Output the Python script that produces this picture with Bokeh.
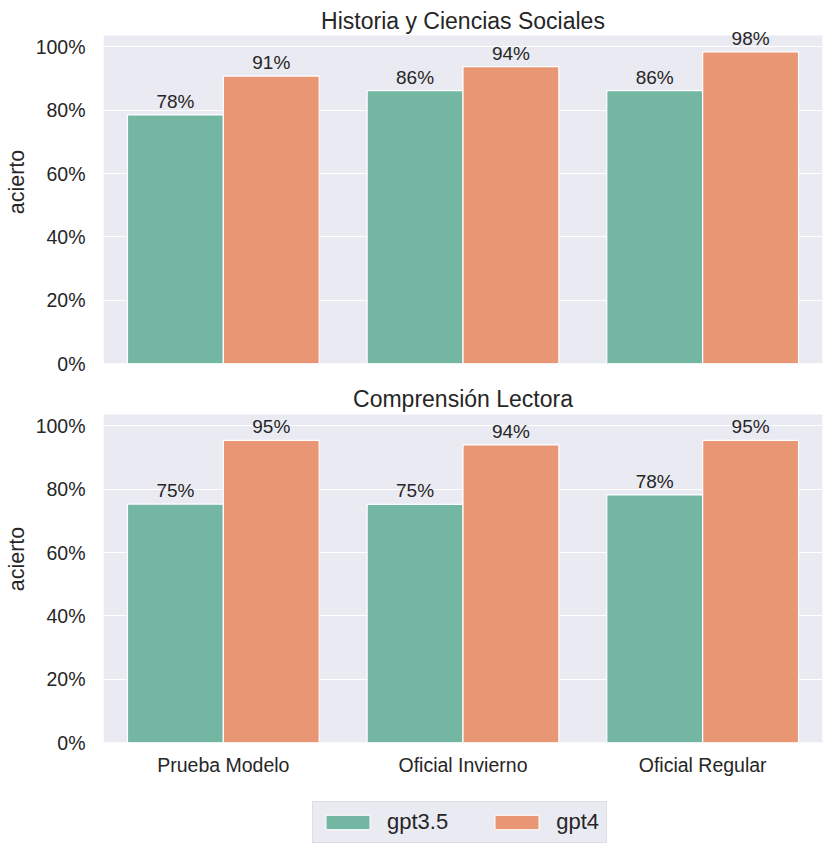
from bokeh.plotting import figure
from bokeh.models import (ColumnDataSource, FactorRange, Range1d, NumeralTickFormatter,
                          Legend, LegendItem, FixedTicker, LabelSet, Label, BoxAnnotation)
from bokeh.transform import dodge
from bokeh.layouts import column
from bokeh.core.properties import value
from bokeh.embed import file_html
from bokeh.resources import INLINE

categories = ["Prueba Modelo", "Oficial Invierno", "Oficial Regular"]
series = ["gpt3.5", "gpt4"]
hist_gpt35 = [0.785, 0.862, 0.862]
hist_gpt4 = [0.908, 0.938, 0.984]
comp_gpt35 = [0.753, 0.752, 0.782]
comp_gpt4 = [0.954, 0.940, 0.954]
titles = ["Historia y Ciencias Sociales", "Comprensión Lectora"]
y_ticks = [0.0, 0.2, 0.4, 0.6, 0.8, 1.0]

FONT = "Liberation Sans"
TXT = "#262626"
BG = "#EAEAF2"
COLORS = ["#73B6A1", "#E99675"]
Y_TOP = 1.036          # top of the grey axes area (data units)
AX_H = 328             # pixel height of the grey axes area
SCALE = AX_H / Y_TOP   # pixels per data unit


def make_fig(title, v35, v4, extra_top, bottom, show_x, title_off):
    src = ColumnDataSource(dict(
        cat=categories, g35=v35, g4=v4,
        l35=[f"{round(v * 100)}%" for v in v35],
        l4=[f"{round(v * 100)}%" for v in v4],
    ))
    fh = AX_H + extra_top
    p = figure(x_range=FactorRange(*categories), y_range=Range1d(0, fh / SCALE),
               frame_width=719, frame_height=fh, output_backend="svg", toolbar_location=None,
               min_border_left=103, min_border_right=10, min_border_top=0,
               min_border_bottom=bottom)
    p.background_fill_color = "white"
    p.border_fill_color = "white"
    p.outline_line_color = None
    p.xgrid.grid_line_color = None
    p.ygrid.grid_line_color = "white"
    p.ygrid.grid_line_width = 1.2
    p.yaxis.ticker = FixedTicker(ticks=y_ticks)
    p.yaxis.formatter = NumeralTickFormatter(format="0%")
    for ax in (p.xaxis[0], p.yaxis[0]):
        ax.axis_line_color = None
        ax.major_tick_line_color = None
        ax.minor_tick_line_color = None
        ax.major_label_text_font = FONT
        ax.major_label_text_font_size = "19.5px"
        ax.major_label_text_color = TXT
    p.yaxis.major_label_standoff = 12
    p.xaxis.major_label_standoff = 5
    p.yaxis.axis_label = "acierto"
    p.yaxis.axis_label_text_font = FONT
    p.yaxis.axis_label_text_font_size = "21.5px"
    p.yaxis.axis_label_text_font_style = "normal"
    p.yaxis.axis_label_text_color = TXT
    p.yaxis.axis_label_standoff = 4
    p.xaxis.visible = show_x
    # grey axes area (below the white margin that holds title and labels)
    p.add_layout(BoxAnnotation(top=Y_TOP, fill_color=BG, fill_alpha=1.0,
                               line_color=None, level="image"))
    p.vbar(x=dodge("cat", -0.2, range=p.x_range), top="g35", width=0.4, source=src,
           fill_color=COLORS[0], line_color="white", line_width=1.2)
    p.vbar(x=dodge("cat", 0.2, range=p.x_range), top="g4", width=0.4, source=src,
           fill_color=COLORS[1], line_color="white", line_width=1.2)
    for col, lab, off in (("g35", "l35", -0.2), ("g4", "l4", 0.2)):
        ls = LabelSet(x=dodge("cat", off, range=p.x_range), y=col, text=lab, source=src,
                      text_align="center", text_baseline="alphabetic", y_offset=7,
                      text_font=value(FONT), text_font_size=value("19px"), text_color=TXT)
        p.add_layout(ls)
    p.add_layout(Label(x=359.5, x_units="screen", y=Y_TOP, y_units="data", y_offset=title_off,
                       text=title, text_align="center", text_baseline="alphabetic",
                       text_font=FONT, text_font_size="23px", text_color=TXT))
    return p


p1 = make_fig(titles[0], hist_gpt35, hist_gpt4, 35, 12, False, 15)
p2 = make_fig(titles[1], comp_gpt35, comp_gpt4, 39, 45, True, 16)

# legend panel
pl = figure(width=832, height=66, output_backend="svg", toolbar_location=None,
            x_range=Range1d(0, 1), y_range=Range1d(0, 1),
            min_border=0)
pl.axis.visible = False
pl.grid.visible = False
pl.outline_line_color = None
pl.background_fill_color = "white"
dummy = ColumnDataSource(dict(x=[-10], top=[-10]))
ra = pl.vbar(x="x", top="top", width=0.1, source=dummy, fill_color=COLORS[0], line_color="white")
rb = pl.vbar(x="x", top="top", width=0.1, source=dummy, fill_color=COLORS[1], line_color="white")
legend = Legend(items=[LegendItem(label=series[0], renderers=[ra]),
                       LegendItem(label=series[1], renderers=[rb])],
                orientation="horizontal", location=(209, 10))
legend.label_text_font = FONT
legend.label_text_font_size = "22px"
legend.label_text_color = TXT
legend.glyph_width = 55
legend.glyph_height = 18
legend.spacing = 41
legend.padding = 7
legend.margin = 0
legend.label_standoff = 12
legend.background_fill_color = BG
legend.background_fill_alpha = 1.0
legend.border_line_color = "#D0D0D8"
legend.border_line_width = 1
pl.add_layout(legend, "center")

layout = column(p1, p2, pl, spacing=0)
open("out.html", "w").write(file_html(layout, INLINE))
